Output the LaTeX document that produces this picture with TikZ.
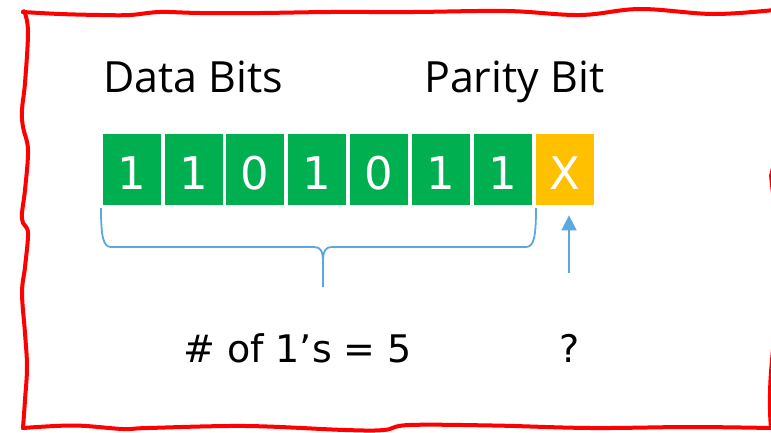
\documentclass[tikz,border=0pt]{standalone}
\usepackage{fontspec}
\setmainfont{DejaVu Sans}
\newfontfamily\labfont{Open Sans}
\newfontfamily\digfont{DejaVu Sans}
\usetikzlibrary{arrows.meta}
\definecolor{bitgreen}{RGB}{0,176,80}
\definecolor{bityellow}{RGB}{255,192,0}
\definecolor{bracecol}{RGB}{91,167,224}
\tikzset{
  bitbox/.style={draw=white, line width=0.8pt, fill=bitgreen, minimum width=59pt, minimum height=72pt,
    inner sep=0pt, text=white, font=\digfont\fontsize{45}{45}\selectfont, text height=40pt, text depth=0pt},
  paritybox/.style={bitbox, fill=bityellow},
  lab/.style={inner sep=0pt, anchor=base west, font=\labfont\fontsize{43}{43}\selectfont},
  countlab/.style={inner sep=0pt, anchor=base west, font=\digfont\fontsize{38}{38}\selectfont},
  border/.style={draw=red, line width=4pt, line cap=round, line join=round},
  bracepath/.style={draw=bracecol, line width=1.8pt},
}
\begin{document}
\begin{tikzpicture}[x=1pt, y=-1pt]
\useasboundingbox (0,0) rectangle (771,432);
% wavy red frame
\path[border] plot[smooth, tension=0.6] coordinates {(23,12) (60,14) (100,15) (130,15) (160,12) (200,13) (260,13) (330,12) (413,12) (507,11) (580,15) (640,9) (713,14) (774,10)};
\path[border] plot[smooth, tension=0.6] coordinates {(23,12) (25,13) (28,33) (25,83) (22,110) (23,127) (28,150) (25,190) (22,213) (23,223) (28,233) (25,267) (22,293) (25,333) (27,367) (25,400) (23,428)};
\path[border] plot[smooth, tension=0.6] coordinates {(23,428) (74,425.5) (123,429) (148,428) (246,426) (345,430) (384,430) (409,425) (493,425.5) (591,428) (690,427) (771,428)};
\path[border] plot[smooth, tension=0.6] coordinates {(774,10) (779,60) (778,140) (772,172) (771.5,180) (777,230) (780,290) (774,340) (770.5,380) (770,410) (771,428)};
% bits
\foreach \i/\v in {1/1,2/1,3/0,4/1,5/0,6/1,7/1}{
  \node[bitbox] (b\i) at ({102+29.5+61.9*(\i-1)},169) {\v};
}
\node[paritybox] (b8) at ({102+29.5+61.9*7},169) {X};
% labels
\node[lab] (ldata) at (103,92) {Data Bits};
\node[lab] (lpar) at (424,92) {Parity Bit};
% brace
\path[bracepath] (101,208) .. controls (101,236) and (103,247) .. (111,247) -- (314,247)
   .. controls (320,247) and (323,250) .. (323,262) -- (323,287);
\path[bracepath] (536,208) .. controls (536,236) and (534,247) .. (526,247) -- (332,247)
   .. controls (326,247) and (323,250) .. (323,262);
% arrow
\coordinate (arrS) at (569,273);
\draw[bracepath, -{Triangle[width=15pt,length=15pt]}, shorten >=10pt] (arrS) -- (arrS |- b8.south);
% bottom labels
\node[countlab] (count) at (183,362) {\# of 1’s = 5};
\node[countlab] (q) at (559,362) {?};
\end{tikzpicture}
\end{document}
